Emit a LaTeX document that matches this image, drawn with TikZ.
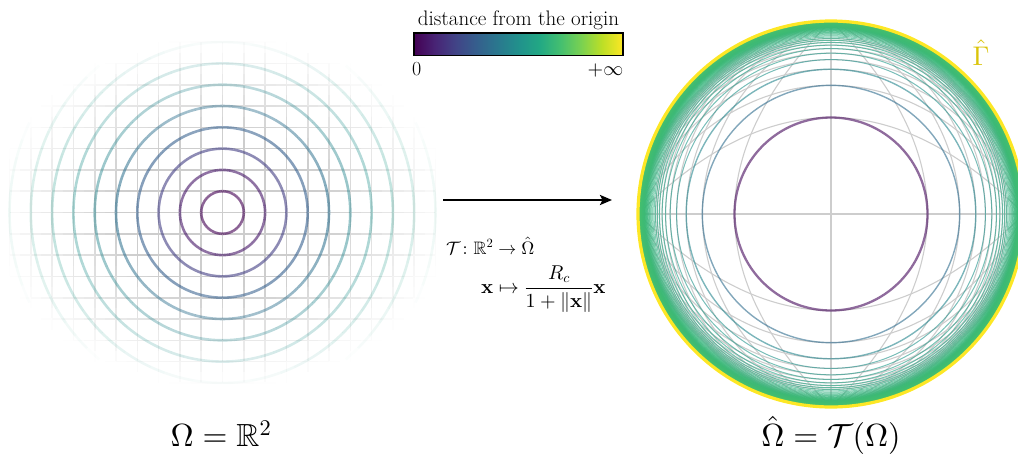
\documentclass[tikz,border=0pt]{standalone}
\usepackage{amsmath,amssymb}
\usetikzlibrary{arrows.meta}
\DeclareFontShape{OT1}{cmr}{m}{n}{<->cmr10}{}
\DeclareFontShape{OT1}{cmr}{bx}{n}{<->cmbx10}{}
\DeclareFontShape{OML}{cmm}{m}{it}{<->cmmi10}{}
\DeclareFontShape{OMS}{cmsy}{m}{n}{<->cmsy10}{}

\definecolor{vir0}{RGB}{68,1,84}
\definecolor{vir1}{RGB}{72,36,117}
\definecolor{vir2}{RGB}{65,68,135}
\definecolor{vir3}{RGB}{53,95,141}
\definecolor{vir4}{RGB}{42,120,142}
\definecolor{vir5}{RGB}{33,145,140}
\definecolor{vir6}{RGB}{34,168,132}
\definecolor{vir7}{RGB}{68,191,112}
\definecolor{vir8}{RGB}{122,209,81}
\definecolor{vir9}{RGB}{189,223,38}
\definecolor{vir10}{RGB}{253,231,37}
\definecolor{gammacol}{RGB}{218,196,10}
\definecolor{gridgray}{RGB}{205,205,205}

\pgfdeclarehorizontalshading{virbar}{100bp}{color(0bp)=(vir0); color(25bp)=(vir0); color(30bp)=(vir1); color(35bp)=(vir2); color(40bp)=(vir3); color(45bp)=(vir4); color(50bp)=(vir5); color(55bp)=(vir6); color(60bp)=(vir7); color(65bp)=(vir8); color(70bp)=(vir9); color(75bp)=(vir10); color(100bp)=(vir10)}

\newcommand\setvir[2]{%
  \pgfmathsetmacro\virT{min(max(#2,0),0.9999)*10}%
  \pgfmathtruncatemacro\virI{floor(\virT)}%
  \pgfmathtruncatemacro\virJ{\virI+1}%
  \pgfmathtruncatemacro\virP{round((\virT-\virI)*100)}%
  \colorlet{#1}{vir\virJ!\virP!vir\virI}}
% fade factor for the left panel (elliptic, semi-axes 228 x 175)
\newcommand\fadeval[2]{%
  \pgfmathsetmacro\gal{max(0,min(1,(1-sqrt(((#1)/228)^2+((#2)/175)^2))/0.55))}}

\tikzset{
  gridr/.style={draw=gridgray, line width=1.1},
  smalltext/.style={font=\fontsize{20}{24}\selectfont, inner sep=0},
  mathtext/.style={font=\fontsize{18}{22}\selectfont, inner sep=0},
  bigtext/.style={font=\fontsize{32}{38}\selectfont, inner sep=0},
}

\begin{document}
\begin{tikzpicture}[x=1pt, y=-1pt]
\useasboundingbox (0,0) rectangle (1018,456);

% ---------------- left panel ----------------
\coordinate (lc) at (222.5,212.5);
\foreach \j in {-10,...,10} {
  \foreach \i in {-20,...,19} {
    \pgfmathsetmacro\gx{\j*21.3}
    \pgfmathsetmacro\gy{(\i+0.5)*10.65}
    % vertical segment
    \fadeval{\gx}{\gy}
    \pgfmathtruncatemacro\gp{round(100*\gal)}
    \ifnum\gp>0
      \colorlet{gc}{gridgray!\gp!white}
      \draw[gc, line width=1.6] ([shift={(\gx,\i*10.65)}]lc) -- ([shift={(\gx,\i*10.65+10.65)}]lc);
    \fi
    % horizontal segment
    \fadeval{\gy}{\gx}
    \pgfmathtruncatemacro\gp{round(100*\gal)}
    \ifnum\gp>0
      \colorlet{gc}{gridgray!\gp!white}
      \draw[gc, line width=1.6] ([shift={(\i*10.65,\gx)}]lc) -- ([shift={(\i*10.65+10.65,\gx)}]lc);
    \fi
  }
}
\foreach \k/\tv in {1/0.0,2/0.06,3/0.18,4/0.3,5/0.37,6/0.45,7/0.5,8/0.54,9/0.57,10/0.6} {
  \setvir{cc}{\tv}
  \pgfmathsetmacro\crad{\k*21.3}
  \foreach \m in {0,5,...,355} {
    \fadeval{\crad*cos(\m+2.5)}{\crad*sin(\m+2.5)}
    \pgfmathsetmacro\gop{0.6*\gal}
    \ifdim\gop pt>0.004pt
      \draw[cc, opacity=\gop, line width=2.6] (lc) ++(\m:\crad) arc[start angle=\m, delta angle=5, radius=\crad];
    \fi
  }
}

% ---------------- right panel ----------------
\coordinate (rc) at (831,214);
\begin{scope}
  \clip (0,0) rectangle (1018,456);
  \draw[gridr] (831,21) -- (831,407);
  \draw[gridr] (638,214) -- (1024,214);
  \foreach \a in {1,...,10} {
    \foreach \sx in {1,-1} {
      \draw[gridr] plot[domain=-90:90, samples=73, variable=\th]
        ({831+\sx*193*\a*cos(\th)/(cos(\th)+\a)}, {214+193*\a*sin(\th)/(cos(\th)+\a)});
      \draw[gridr] plot[domain=-90:90, samples=73, variable=\th]
        ({831+193*\a*sin(\th)/(cos(\th)+\a)}, {214+\sx*193*\a*cos(\th)/(cos(\th)+\a)});
    }
  }
  \foreach \k in {1,...,140} {
    \pgfmathsetmacro\rrad{193-193/(1+\k)}
    \pgfmathsetmacro\rtv{\k==1 ? 0.02 : 0.72-0.635/pow(\k,0.78)}
    \pgfmathsetmacro\rlw{\k==1 ? 2.3 : (\k<4 ? 1.4 : 1.0)}
    \setvir{cc}{\rtv}
    \draw[cc, opacity=0.6, line width=\rlw] (rc) circle[radius=\rrad];
  }
  \draw[draw=vir10, line width=3.2] (rc) circle[radius=193];
\end{scope}
\node[font=\fontsize{27}{32}\selectfont, text=gammacol, anchor=base, inner sep=0] (gam) at (981,65) {$\hat{\Gamma}$};

% ---------------- colour bar ----------------
\coordinate (cbl) at (414,33);
\coordinate (cbr) at (623,55.5);
\shade[shading=virbar] (cbl) rectangle (cbr);
\draw[black, line width=1.1] (cbl) rectangle (cbr);
\node[smalltext, font=\fontsize{21}{25}\selectfont, anchor=base] (cbt) at (518.5,25) {distance from the origin};
\node[smalltext, anchor=base west] (c0) at (412,75) {0};
\node[smalltext, anchor=base east] (cinf) at (623.5,75) {$+\infty$};

% ---------------- arrow and map ----------------
\coordinate (arrs) at (443,200);
\coordinate (arre) at (612,200);
\draw[line width=2.5, -{Stealth[length=12pt, width=10pt, inset=2.5pt]}] (arrs) -- (arre);
\node[mathtext, anchor=base west] (tmap) at (446,254) {$\mathcal{T}\colon \mathbb{R}^2 \to \hat{\Omega}$};
\node[mathtext, font=\fontsize{20}{24}\selectfont, anchor=base west] (xmap) at (481,293.5) {$\mathbf{x} \mapsto \dfrac{R_c}{1+\|\mathbf{x}\|}\mathbf{x}$};

% ---------------- bottom labels ----------------
\node[bigtext, anchor=base] (lom) at (221,446.7) {$\Omega = \mathbb{R}^2$};
\node[bigtext, anchor=base] (rom) at (831,446.7) {$\hat{\Omega} = \mathcal{T}(\Omega)$};
\end{tikzpicture}
\end{document}
